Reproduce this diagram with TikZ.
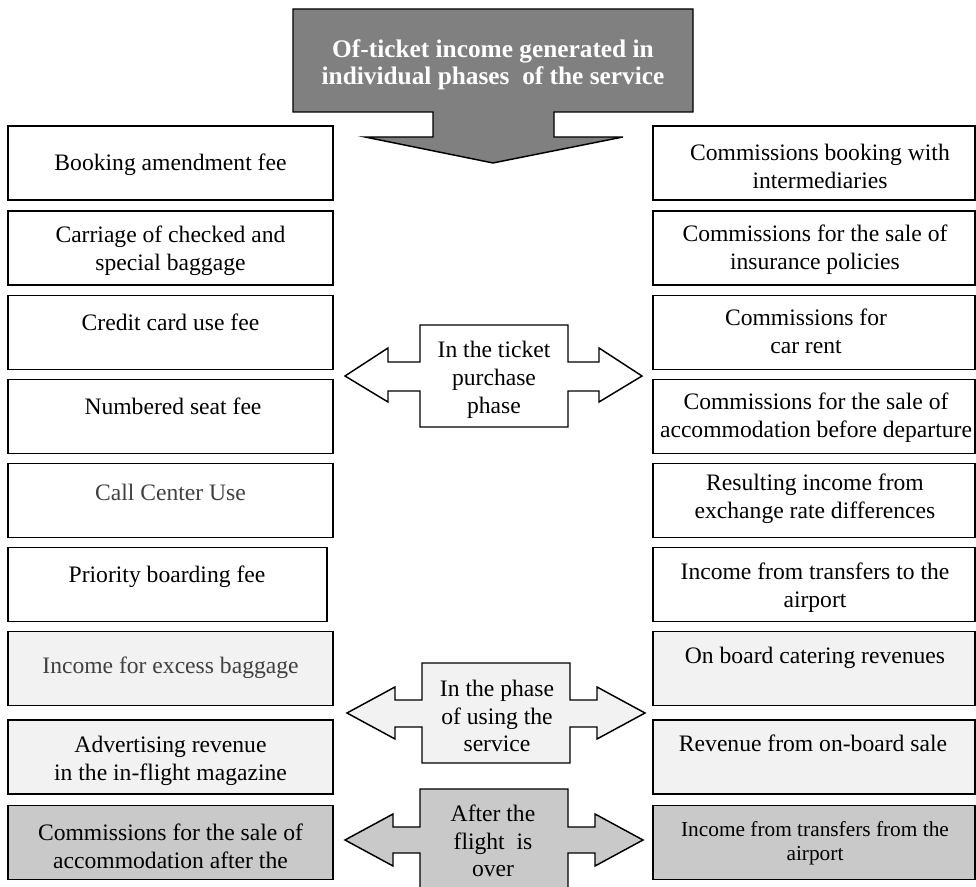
\documentclass[tikz,border=0pt]{standalone}
\usepackage{fontspec}
\setmainfont{Liberation Serif}
\usepackage{xcolor}
\definecolor{titleFill}{HTML}{808080}
\definecolor{paleFill}{HTML}{F2F2F2}
\definecolor{greyFill}{HTML}{C9C9C9}
\definecolor{softText}{HTML}{404040}
\usepackage{tikz}
\usetikzlibrary{positioning, calc}

\begin{document}
\begin{tikzpicture}[x=0.75pt, y=-0.75pt,
    box/.style={draw=black, line width=1.1pt, rectangle, minimum height=55.5pt, inner sep=0pt},
    leftbox/.style={box, minimum width=243.75pt},
    rightbox/.style={box, minimum width=241.5pt},
    txt/.style={align=center, inner sep=0pt, font=\fontsize{17.7}{20.8}\selectfont},
    phase/.style={draw=black, line width=1.1pt, line join=miter}]
    \useasboundingbox (0,0) rectangle (976,887);

    % Title arrow
    \draw[phase, fill=titleFill] (293,9) -- (693,9) -- (693,112) -- (554,112) -- (554,137) -- (623,137)
        -- (493,163) -- (365,137) -- (433,137) -- (433,112) -- (293,112) -- cycle;
    \node[txt, text=white, font=\bfseries\fontsize{19}{20.5}\selectfont] (title) at (493,65)
        {Of-ticket income generated in\\individual phases\ \ of the service};

    % Left column
    \node[leftbox] (l1) at (170.5,163) {};
    \node[leftbox] (l2) at (170.5,248) {};
    \node[leftbox] (l3) at (170.5,332.5) {};
    \node[leftbox] (l4) at (170.5,416.5) {};
    \node[leftbox] (l5) at (170.5,500.5) {};
    \node[box, minimum width=239.25pt] (l6) at (167.5,584.5) {};
    \node[leftbox, fill=paleFill] (l7) at (170.5,668.5) {};
    \node[leftbox, fill=paleFill] (l8) at (170.5,757) {};
    \node[leftbox, fill=greyFill] (l9) at (170.5,842.5) {};

    \node[txt] (lt1) at (170.5,165) {Booking amendment fee};
    \node[txt] (lt2) at (170.5,251) {Carriage of checked and\\special baggage};
    \node[txt] (lt3) at (170.5,322) {Credit card use fee};
    \node[txt] (lt4) at (173,406) {Numbered seat fee};
    \node[txt, text=softText] (lt5) at (170.5,492) {Call Center Use};
    \node[txt] (lt6) at (167,577) {Priority boarding fee};
    \node[txt, text=softText] (lt7) at (170.5,668) {Income for excess baggage};
    \node[txt] (lt8) at (170.5,761) {Advertising revenue\\in the in-flight magazine};
    \node[txt] (lt9) at (170.5,846) {Commissions for the sale of\\accommodation after the};

    % Right column
    \node[rightbox] (r1) at (814,163) {};
    \node[rightbox] (r2) at (814,248) {};
    \node[rightbox] (r3) at (814,332.5) {};
    \node[rightbox] (r4) at (814,416.5) {};
    \node[rightbox] (r5) at (814,500.5) {};
    \node[rightbox] (r6) at (814,584.5) {};
    \node[rightbox, fill=paleFill] (r7) at (814,668.5) {};
    \node[rightbox, fill=paleFill] (r8) at (814,757) {};
    \node[rightbox, fill=greyFill] (r9) at (814,842.5) {};

    \node[txt] (rt1) at (820,166.5) {Commissions booking with\\intermediaries};
    \node[txt] (rt2) at (815,250) {Commissions for the sale of\\insurance policies};
    \node[txt] (rt3) at (806,331) {Commissions for\\car rent};
    \node[txt] (rt4) at (816,418) {Commissions for the sale of\\accommodation before departure};
    \node[txt] (rt5) at (815,499) {Resulting income from\\exchange rate differences};
    \node[txt] (rt6) at (815,588) {Income from transfers to the\\airport};
    \node[txt] (rt7) at (815,658) {On board catering revenues};
    \node[txt] (rt8) at (813,743) {Revenue from on-board sale};
    \node[txt, font=\fontsize{16}{17.8}\selectfont] (rt9) at (815,843) {Income from transfers from the\\airport};

    % Phase arrows
    \draw[phase, fill=white] (420,325) -- (568,325) -- (568,362) -- (599,362) -- (599,348) -- (642,376)
        -- (599,402) -- (599,391) -- (568,391) -- (568,427) -- (420,427) -- (420,391) -- (388,391)
        -- (388,402) -- (345,376) -- (388,348) -- (388,362) -- (420,362) -- cycle;
    \node[txt] (p1) at (494,380) {In the ticket\\purchase\\phase};

    \draw[phase, fill=paleFill] (422,663) -- (570,663) -- (570,700) -- (597,700) -- (597,687) -- (645,713)
        -- (597,739) -- (597,727) -- (570,727) -- (570,763) -- (422,763) -- (422,727) -- (395,727)
        -- (395,739) -- (347,713) -- (395,687) -- (395,700) -- (422,700) -- cycle;
    \node[txt] (p2) at (497,716) {In the phase\\of using the\\service};

    \draw[phase, fill=greyFill] (420,789) -- (568,789) -- (568,827) -- (595,827) -- (595,814) -- (643,840)
        -- (595,866) -- (595,853) -- (568,853) -- (568,900) -- (420,900) -- (420,853) -- (393,853)
        -- (393,866) -- (345,840) -- (393,814) -- (393,827) -- (420,827) -- cycle;
    \node[txt] (p3) at (493,841) {After the\\flight\ \ is\\over};
\end{tikzpicture}
\end{document}
